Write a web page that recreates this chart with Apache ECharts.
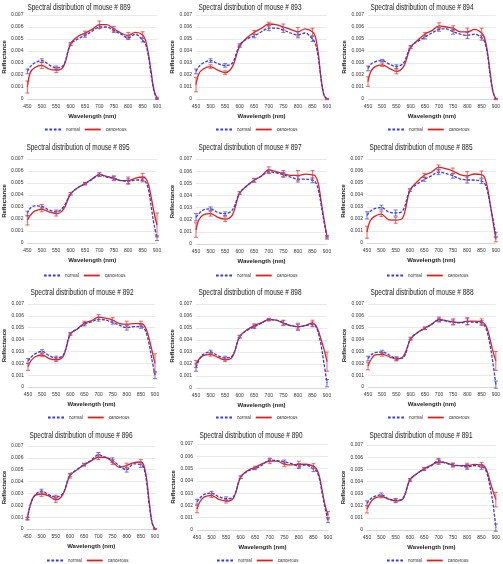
<!DOCTYPE html>
<html><head><meta charset="utf-8">
<script src="https://cdn.jsdelivr.net/npm/echarts@6/dist/echarts.min.js"></script>
<style>html,body{margin:0;padding:0;background:#fff}#c{width:503px;height:564px}</style>
</head><body><div id="c"></div><script>
// ---------- data ----------
const wavelengths = [450,460,475,500,525,550,575,600,625,650,675,700,725,750,775,800,825,850,860,870,880,890,900];
const errWavelengths = [450,500,550,600,650,700,750,800,850,900];
const xTickMin = 450, xTickMax = 900, xTickStep = 50;
const yTickMin = 0, yTickMax = 0.007, yTickStep = 0.001;
const mouseIds = ['889','893','894','895','897','885','892','898','888','896','890','891'];
const seriesNames = ['normal','cancerous'];

const n889 = [0.0023,0.0027,0.0030,0.0032,0.00285,0.0026,0.0028,0.00455,0.0050,0.0053,0.00565,0.0060,0.0060,0.0057,0.0054,0.0051,0.0054,0.0049,0.0046,0.0036,0.0020,0.0006,0.0000];
const c889 = [0.0010,0.0022,0.0026,0.0028,0.0025,0.0024,0.0027,0.0046,0.0052,0.0055,0.0058,0.0062,0.0062,0.00585,0.0055,0.0053,0.00555,0.00535,0.0049,0.0038,0.0022,0.0007,0.0001];
const n893 = [0.0023,0.0027,0.0030,0.0032,0.00295,0.0028,0.0030,0.0045,0.0050,0.00525,0.0056,0.0059,0.0059,0.00575,0.0055,0.00535,0.0055,0.0050,0.0046,0.0035,0.0016,0.0003,0.0000];
const c893 = [0.0012,0.0021,0.0025,0.0027,0.0024,0.0022,0.0027,0.0044,0.0051,0.00555,0.0059,0.00625,0.0062,0.0060,0.0058,0.0056,0.00585,0.0056,0.0052,0.0038,0.0016,0.0003,0.0000];
const n894 = [0.00255,0.0029,0.0031,0.0032,0.0029,0.0027,0.0030,0.00435,0.0048,0.00515,0.0055,0.0058,0.00585,0.0056,0.0054,0.0053,0.0054,0.0051,0.0048,0.0038,0.0020,0.0006,0.0000];
const c894 = [0.00145,0.0023,0.0027,0.00285,0.00255,0.0023,0.0027,0.0043,0.0049,0.0054,0.0057,0.0061,0.0060,0.0059,0.0056,0.0056,0.0058,0.0055,0.0051,0.0040,0.0022,0.0006,0.0000];
const n895 = [0.00245,0.0029,0.0031,0.00305,0.00275,0.0026,0.0030,0.0041,0.0046,0.00495,0.0053,0.0057,0.0055,0.0054,0.0052,0.00515,0.00525,0.00525,0.0051,0.0045,0.0030,0.0015,0.0004];
const c895 = [0.0019,0.0023,0.00265,0.0028,0.0026,0.00245,0.0028,0.0041,0.0046,0.00495,0.00535,0.0057,0.00555,0.0054,0.0052,0.0052,0.0054,0.0055,0.0054,0.0049,0.0038,0.0025,0.0015];
const n897 = [0.0022,0.0025,0.0028,0.0029,0.0026,0.0025,0.0028,0.0042,0.0048,0.00525,0.0056,0.00595,0.00585,0.0057,0.0055,0.00535,0.00535,0.00525,0.0051,0.0045,0.0032,0.0018,0.0005];
const c897 = [0.00115,0.0020,0.0024,0.0025,0.0022,0.00205,0.0024,0.0042,0.0048,0.00525,0.0056,0.0061,0.00595,0.0058,0.00565,0.00565,0.00575,0.0057,0.0056,0.0050,0.0035,0.0020,0.0006];
const n885 = [0.0023,0.0026,0.00285,0.00295,0.0026,0.0025,0.0027,0.0044,0.0049,0.0053,0.0056,0.0059,0.0058,0.0056,0.00535,0.00525,0.00525,0.00515,0.0050,0.0044,0.0032,0.0020,0.0007];
const c885 = [0.0009,0.0018,0.0022,0.0024,0.00195,0.0019,0.0021,0.0044,0.0051,0.00565,0.0059,0.0063,0.0062,0.0060,0.0057,0.0056,0.00575,0.0057,0.0055,0.0047,0.0033,0.0018,0.0003];
const n892 = [0.0022,0.0025,0.0028,0.0030,0.00265,0.00245,0.0027,0.0045,0.0049,0.0053,0.0055,0.0057,0.00565,0.00545,0.0052,0.0050,0.0051,0.0051,0.0050,0.0045,0.0035,0.0022,0.0010];
const c892 = [0.0017,0.0022,0.00255,0.0027,0.0024,0.0023,0.0026,0.00445,0.0049,0.0054,0.0056,0.0059,0.0058,0.00565,0.00535,0.0053,0.00535,0.00535,0.00525,0.0048,0.0040,0.0030,0.0020];
const n898 = [0.0017,0.0023,0.0028,0.0030,0.0027,0.0025,0.0027,0.00425,0.0048,0.0051,0.0054,0.0057,0.00565,0.00545,0.0052,0.0051,0.0052,0.0053,0.0052,0.0046,0.0035,0.0020,0.0004];
const c898 = [0.0020,0.0024,0.0027,0.0028,0.00255,0.00235,0.0026,0.0043,0.00485,0.0052,0.00545,0.0057,0.00565,0.0054,0.0052,0.0051,0.0052,0.0054,0.00525,0.0048,0.0040,0.0032,0.0022];
const n888 = [0.0024,0.0027,0.0029,0.00295,0.0027,0.0024,0.0025,0.0041,0.0046,0.00495,0.0053,0.00565,0.00555,0.00545,0.0054,0.0055,0.00545,0.0054,0.0052,0.0046,0.0035,0.0020,0.0002];
const c888 = [0.00175,0.0023,0.0027,0.00275,0.00255,0.00235,0.0026,0.00405,0.0046,0.00495,0.0053,0.0057,0.0056,0.0055,0.00545,0.00555,0.00555,0.0055,0.00535,0.0049,0.0040,0.0030,0.0022];
const n896 = [0.00085,0.0020,0.0028,0.0032,0.0029,0.0027,0.0030,0.00455,0.0050,0.00545,0.0058,0.00625,0.00605,0.0058,0.0053,0.0050,0.0055,0.0054,0.0052,0.0040,0.0020,0.0005,0.0000];
const c896 = [0.0009,0.0020,0.0028,0.00295,0.0028,0.00245,0.0029,0.0045,0.0050,0.0054,0.00575,0.00605,0.00605,0.00565,0.0052,0.00535,0.0056,0.00565,0.0054,0.0043,0.0022,0.0005,0.0000];
const n890 = [0.0023,0.0026,0.0029,0.0030,0.0027,0.00255,0.0027,0.0043,0.0048,0.0050,0.0053,0.0057,0.00565,0.00555,0.0054,0.0052,0.0053,0.00495,0.0048,0.0042,0.0030,0.0018,0.0008];
const c890 = [0.0017,0.0023,0.0027,0.0028,0.0025,0.00235,0.0026,0.0043,0.00485,0.0051,0.0054,0.0056,0.0056,0.00535,0.0053,0.00535,0.00535,0.0052,0.0050,0.0044,0.0032,0.0020,0.0012];
const n891 = [0.0022,0.0025,0.00275,0.0029,0.00255,0.00245,0.0026,0.0041,0.00465,0.0050,0.0053,0.0057,0.0055,0.00535,0.0053,0.0052,0.0053,0.0052,0.0051,0.0046,0.0035,0.0022,0.0002];
const c891 = [0.0017,0.0022,0.0026,0.00275,0.00255,0.0024,0.00255,0.00415,0.00465,0.00505,0.00535,0.0056,0.00555,0.00535,0.0053,0.0053,0.0054,0.00535,0.00525,0.0048,0.0040,0.0032,0.0025];

// error half-widths at errWavelengths
const en889 = [0.0002,0.00015,0.00015,0.0001,0.00015,0.00015,0.00015,0.00015,0.00015,0.00005];
const ec889 = [0.0005,0.00025,0.0002,0.0001,0.00015,0.0003,0.0002,0.00025,0.00025,0.00005];
const en893 = [0.0002,0.00015,0.00015,0.0001,0.00015,0.0002,0.0002,0.00025,0.0002,0.00005];
const ec893 = [0.0006,0.00015,0.00015,0.0001,0.00015,0.00015,0.00025,0.00035,0.0003,0.00005];
const en894 = [0.0002,0.0001,0.00015,0.0001,0.00015,0.00015,0.0002,0.00025,0.0002,0.00005];
const ec894 = [0.0004,0.00015,0.0002,0.0001,0.00015,0.00025,0.0002,0.0003,0.0004,0.00005];
const en895 = [0.0002,0.00015,0.00015,0.0001,0.0001,0.00015,0.00015,0.0002,0.00015,0.0002];
const ec895 = [0.0004,0.0002,0.0002,0.0001,0.0001,0.00015,0.0002,0.0003,0.0003,0.0010];
const en897 = [0.0003,0.00015,0.00015,0.0001,0.00015,0.00015,0.0002,0.00025,0.0002,0.0001];
const ec897 = [0.0006,0.0002,0.0002,0.0001,0.00015,0.00025,0.00025,0.0004,0.00035,0.0001];
const en885 = [0.0003,0.0002,0.00025,0.0001,0.00015,0.0002,0.0002,0.00025,0.0002,0.0002];
const ec885 = [0.0005,0.0002,0.00025,0.0001,0.00015,0.0002,0.00025,0.00035,0.0003,0.0002];
const en892 = [0.0002,0.00015,0.00015,0.0001,0.00015,0.00015,0.00015,0.0002,0.00015,0.0003];
const ec892 = [0.0003,0.00015,0.00015,0.0001,0.00015,0.0002,0.0002,0.00025,0.0002,0.0008];
const en898 = [0.0003,0.00015,0.00015,0.0001,0.00015,0.0001,0.0002,0.0002,0.0002,0.0003];
const ec898 = [0.0003,0.00015,0.00015,0.0001,0.00015,0.0001,0.0002,0.0003,0.00025,0.0008];
const en888 = [0.0002,0.00015,0.00015,0.0001,0.0001,0.00015,0.0002,0.00025,0.0002,0.0003];
const ec888 = [0.0003,0.00015,0.00015,0.0001,0.0001,0.0002,0.00025,0.0003,0.00025,0.0008];
const en896 = [0.0001,0.00015,0.00015,0.0001,0.0001,0.0002,0.0002,0.0002,0.0002,0.00005];
const ec896 = [0.0001,0.0002,0.0002,0.0002,0.0001,0.0002,0.0002,0.0002,0.0002,0.00005];
const en890 = [0.0002,0.00015,0.00015,0.0001,0.0001,0.00015,0.00015,0.0002,0.0002,0.0002];
const ec890 = [0.0003,0.00015,0.00015,0.0001,0.0001,0.0002,0.0002,0.00025,0.0002,0.0003];
const en891 = [0.0002,0.00015,0.00015,0.0001,0.0001,0.0002,0.00015,0.0002,0.0002,0.0003];
const ec891 = [0.0003,0.0001,0.00015,0.0001,0.0001,0.0002,0.00015,0.0002,0.0002,0.0006];

const normals = [n889,n893,n894,n895,n897,n885,n892,n898,n888,n896,n890,n891];
const cancers = [c889,c893,c894,c895,c897,c885,c892,c898,c888,c896,c890,c891];
const errN = [en889,en893,en894,en895,en897,en885,en892,en898,en888,en896,en890,en891];
const errC = [ec889,ec893,ec894,ec895,ec897,ec885,ec892,ec898,ec888,ec896,ec890,ec891];

// ---------- layout ----------
const boxes = [ // left, top, width, height of each plot area
  [25,15,132,84],[196,15,131,84],[368,15,128,84],
  [24,159,133,84],[196,159,131,85],[367,159,131,84],
  [28,304,127,83],[196,304,131,84],[368,304,130,83],
  [27,446,128,83],[197,444,131,86],[367,445,130,85]
];
const titleY = [7,147,292,435];
const legendY = [127,273,415,558];
const BLUE = '#3a3ad6', RED = '#e0201e';
const FONT = "'Liberation Sans',Arial,sans-serif";
const ICON_DASH = 'path://M0,0h3v2h-3z M5,0h3v2h-3z M10,0h3v2h-3z M15,0h3v2h-3z';
const ICON_SOLID = 'path://M0,0h18v2h-18z';

const chart = echarts.init(document.getElementById('c'));
const option = {
  animation:false, backgroundColor:'#fff',
  graphic:[], grid:[], xAxis:[], yAxis:[], legend:[], series:[]
};

function errRender(color){
  return function(params, api){
    const x = api.value(0), lo = api.value(1), hi = api.value(2);
    const p1 = api.coord([x, lo]), p2 = api.coord([x, hi]);
    const cw = 2;
    const st = {stroke: color, lineWidth: 0.8};
    return {type:'group', children:[
      {type:'line', shape:{x1:p1[0],y1:p1[1],x2:p2[0],y2:p2[1]}, style:st},
      {type:'line', shape:{x1:p1[0]-cw,y1:p1[1],x2:p1[0]+cw,y2:p1[1]}, style:st},
      {type:'line', shape:{x1:p2[0]-cw,y1:p2[1],x2:p2[0]+cw,y2:p2[1]}, style:st}
    ]};
  };
}

mouseIds.forEach((id, i) => {
  const b = boxes[i];
  const row = Math.floor(i/3);
  option.grid.push({left:b[0], top:b[1], width:b[2], height:b[3], containLabel:false});
  option.graphic.push({
    type:'text', x: b[0] + 54, y: titleY[row], scaleX:0.68, z:10,
    style:{text:'Spectral distribution of mouse # ' + id, fontSize:9.5, fontFamily:FONT,
      fill:'#1a1a1a', align:'center', verticalAlign:'middle'}
  });
  option.xAxis.push({
    type:'value', gridIndex:i, min:xTickMin, max:xTickMax, interval:xTickStep,
    name:'Wavelength (nm)', nameLocation:'middle', nameGap:14,
    nameTextStyle:{fontSize:6, fontWeight:'bold', color:'#222', fontFamily:FONT},
    axisLine:{show:true, lineStyle:{color:'#d0d0d0', width:0.8}},
    axisTick:{show:false}, splitLine:{show:false},
    axisLabel:{fontSize:5, color:'#333', margin:5, fontFamily:FONT}
  });
  option.yAxis.push({
    type:'value', gridIndex:i, min:yTickMin, max:yTickMax, interval:yTickStep,
    name:'Reflectance', nameLocation:'middle', nameGap:19, nameRotate:90,
    nameTextStyle:{fontSize:6, fontWeight:'bold', color:'#222', fontFamily:FONT},
    axisLine:{show:false}, axisTick:{show:false},
    splitLine:{show:true, lineStyle:{color:'#dadada', width:0.6}},
    axisLabel:{fontSize:5, color:'#333', margin:4, fontFamily:FONT,
      formatter: v => v === 0 ? '0' : v.toFixed(3)}
  });
  option.legend.push({
    data:[
      {name:seriesNames[0], icon:ICON_DASH, itemStyle:{color:BLUE, borderWidth:0}},
      {name:seriesNames[1], icon:ICON_SOLID, itemStyle:{color:RED, borderWidth:0}}
    ],
    left: b[0] + 20, top: legendY[row],
    orient:'horizontal', itemWidth:16, itemHeight:2, itemGap:5, padding:0,
    textStyle:{fontSize:4.5, color:'#333', fontFamily:FONT},
    selectedMode:false
  });
  const nData = wavelengths.map((w,k) => [w, normals[i][k]]);
  const cData = wavelengths.map((w,k) => [w, cancers[i][k]]);
  option.series.push({
    name:'normal', type:'line', xAxisIndex:i, yAxisIndex:i, data:nData, smooth:0.35,
    showSymbol:false, symbol:'none', z:3,
    lineStyle:{color:BLUE, width:1.3, type:[3,1.5]}, itemStyle:{color:BLUE}
  });
  option.series.push({
    name:'cancerous', type:'line', xAxisIndex:i, yAxisIndex:i, data:cData, smooth:0.35,
    showSymbol:false, symbol:'none', z:2,
    lineStyle:{color:RED, width:1.3}, itemStyle:{color:RED}
  });
  const eN = errWavelengths.map((w,k) => {
    const v = normals[i][wavelengths.indexOf(w)]; return [w, v-errN[i][k], v+errN[i][k]];
  });
  const eC = errWavelengths.map((w,k) => {
    const v = cancers[i][wavelengths.indexOf(w)]; return [w, v-errC[i][k], v+errC[i][k]];
  });
  option.series.push({type:'custom', xAxisIndex:i, yAxisIndex:i, data:eN, renderItem:errRender('#5050d8'), z:4, silent:true});
  option.series.push({type:'custom', xAxisIndex:i, yAxisIndex:i, data:eC, renderItem:errRender('#e04040'), z:4, silent:true});
});
chart.setOption(option);
</script></body></html>
